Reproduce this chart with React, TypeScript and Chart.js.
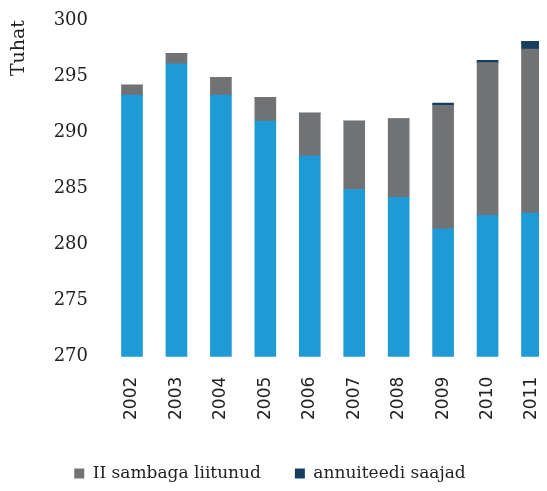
import React, { useEffect, useRef } from "react";
import { Chart, registerables } from "chart.js";

Chart.register(...registerables);

const years = ["2002", "2003", "2004", "2005", "2006", "2007", "2008", "2009", "2010", "2011"];
const baseValues = [293.3, 296.1, 293.3, 291.0, 287.9, 284.9, 284.2, 281.4, 282.6, 282.8];
const secondPillar = [0.9, 0.9, 1.6, 2.1, 3.8, 6.1, 7.0, 11.0, 13.6, 14.6];
const annuitants = [0, 0, 0, 0, 0, 0, 0, 0.2, 0.2, 0.7];
const yTicks = [270, 275, 280, 285, 290, 295, 300];

const clipBox = { left: 20, right: 20, top: 20, bottom: 0 };

export default function App() {
  const ref = useRef<HTMLCanvasElement | null>(null);
  useEffect(() => {
    if (!ref.current) return;
    const chart = new Chart(ref.current, {
      type: "bar",
      data: {
        labels: years,
        datasets: [
          { label: "", data: baseValues, backgroundColor: "#1E9AD6", barThickness: 21, clip: clipBox as any },
          { label: "II sambaga liitunud", data: secondPillar, backgroundColor: "#717274", barThickness: 21, clip: clipBox as any },
          { label: "annuiteedi saajad", data: annuitants, backgroundColor: "#163E5F", barThickness: 21, clip: clipBox as any },
        ],
      },
      options: {
        animation: false,
        responsive: true,
        maintainAspectRatio: false,
        layout: { padding: { top: 0, right: 15, left: 0, bottom: -9 } },
        plugins: {
          tooltip: { enabled: false },
          legend: {
            position: "bottom",
            labels: {
              filter: (item: any) => item.datasetIndex !== 0,
              boxWidth: 10,
              boxHeight: 10,
              padding: 34,
              color: "#222",
              font: { family: "DejaVu Serif", size: 17 },
            },
          },
        },
        scales: {
          x: {
            stacked: true,
            offset: false,
            afterFit: (scale: any) => {
              scale.paddingLeft = 0;
              scale.paddingRight = 0;
              scale.height -= 9;
            },
            grid: { display: false, drawTicks: false },
            border: { display: false },
            ticks: {
              autoSkip: false,
              maxRotation: 90,
              minRotation: 90,
              padding: 20,
              color: "#222",
              font: { family: "DejaVu Sans", size: 17 },
            },
          },
          y: {
            stacked: true,
            min: 270,
            max: 300,
            afterFit: (scale: any) => {
              scale.width = 124;
              scale.paddingTop = 12;
              scale.paddingBottom = 12;
            },
            afterBuildTicks: (scale: any) => {
              scale.ticks = yTicks.map((v) => ({ value: v }));
            },
            grid: { display: false, drawTicks: false },
            border: { display: false },
            title: {
              display: true,
              text: "Tuhat",
              align: "end",
              color: "#222",
              font: { family: "DejaVu Serif", size: 19, lineHeight: 1 },
              padding: { top: 2, bottom: 0 },
            },
            ticks: {
              padding: 44,
              color: "#222",
              font: { family: "DejaVu Serif", size: 18 },
            },
          },
        },
      },
    });
    return () => chart.destroy();
  }, []);
  return (
    <div style={{ position: "relative", width: 539, height: 475 }}>
      <canvas ref={ref} />
    </div>
  );
}
